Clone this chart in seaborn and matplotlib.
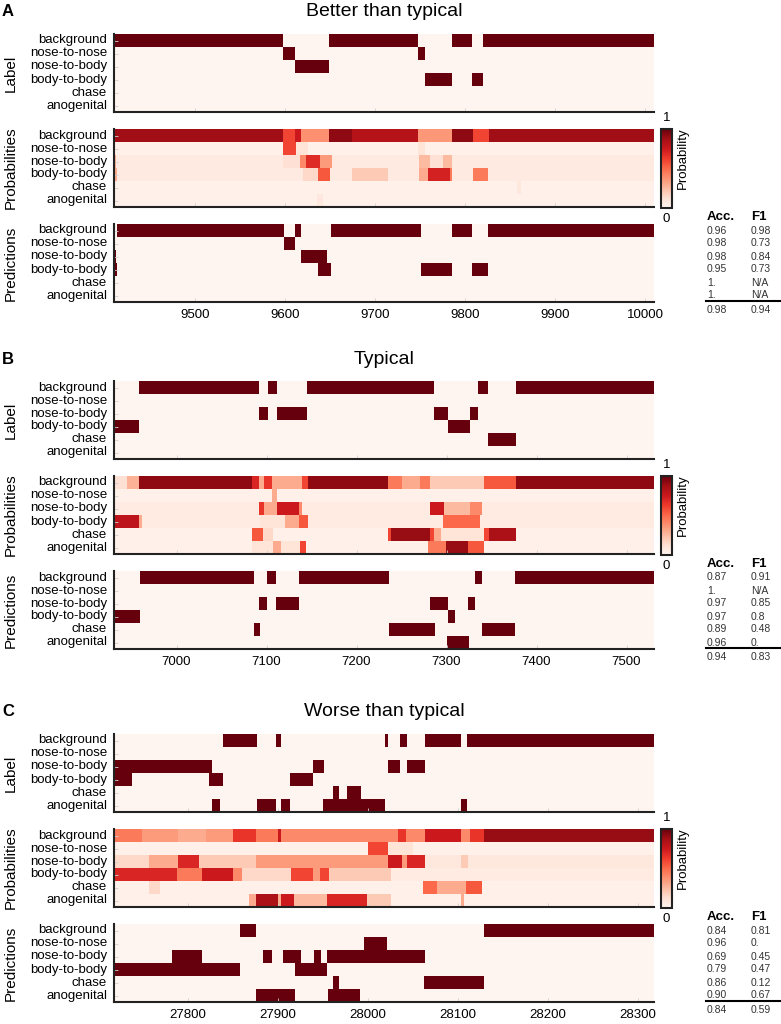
import numpy as np
import pandas as pd
import matplotlib.pyplot as plt
import matplotlib.transforms as mtransforms
import seaborn as sns

plt.rcParams["font.family"] = ["Liberation Sans", "DejaVu Sans"]

BEHAVIORS = ["background", "nose-to-nose", "nose-to-body", "body-to-body", "chase", "anogenital"]
GROUPS = ["Label", "Probabilities", "Predictions"]

# --- panel A: better than typical ---
A_TITLE = "Better than typical"
A_FRAMES = (9410, 10010)
A_TICKS = [9500, 9600, 9700, 9800, 9900, 10000]
A_LABEL = [
    ("background", 9410, 9598), ("background", 9649, 9748), ("background", 9785, 9808), ("background", 9820, 10010),
    ("nose-to-nose", 9598, 9611), ("nose-to-nose", 9748, 9756),
    ("nose-to-body", 9611, 9649),
    ("body-to-body", 9756, 9785), ("body-to-body", 9808, 9820),
]
A_PROB_BASE = [0.88, 0.03, 0.07, 0.07, 0.03, 0.03]
A_PROB = [
    ("background", 9598, 9611, 0.6), ("background", 9611, 9618, 0.75), ("background", 9618, 9649, 0.38),
    ("background", 9649, 9674, 0.92), ("background", 9674, 9748, 0.82), ("background", 9748, 9785, 0.36),
    ("background", 9785, 9809, 0.92), ("background", 9809, 9827, 0.6),
    ("nose-to-nose", 9598, 9612, 0.6), ("nose-to-nose", 9612, 9625, 0.1), ("nose-to-nose", 9748, 9756, 0.1),
    ("nose-to-body", 9410, 9412, 0.3), ("nose-to-body", 9598, 9617, 0.12), ("nose-to-body", 9617, 9623, 0.4),
    ("nose-to-body", 9623, 9639, 0.68), ("nose-to-body", 9639, 9652, 0.35), ("nose-to-body", 9749, 9761, 0.25),
    ("nose-to-body", 9761, 9775, 0.12), ("nose-to-body", 9775, 9785, 0.25),
    ("body-to-body", 9410, 9413, 0.3), ("body-to-body", 9620, 9637, 0.15), ("body-to-body", 9637, 9650, 0.55),
    ("body-to-body", 9674, 9714, 0.2), ("body-to-body", 9749, 9759, 0.3), ("body-to-body", 9759, 9783, 0.72),
    ("body-to-body", 9783, 9786, 0.45), ("body-to-body", 9809, 9825, 0.45),
    ("chase", 9858, 9862, 0.08), ("anogenital", 9636, 9642, 0.08),
]
A_PRED = [
    ("background", 9413, 9599), ("background", 9611, 9618), ("background", 9651, 9751), ("background", 9786, 9808), ("background", 9825, 10010),
    ("nose-to-nose", 9599, 9611),
    ("nose-to-body", 9410, 9412), ("nose-to-body", 9618, 9647),
    ("body-to-body", 9410, 9413), ("body-to-body", 9637, 9651), ("body-to-body", 9751, 9786), ("body-to-body", 9808, 9825),
]
A_ACC = ["0.96", "0.98", "0.98", "0.95", "1.", "1."]
A_F1 = ["0.98", "0.73", "0.84", "0.73", "N/A", "N/A"]
A_TOTAL = ["0.98", "0.94"]

# --- panel B: typical ---
B_TITLE = "Typical"
B_FRAMES = (6931, 7531)
B_TICKS = [7000, 7100, 7200, 7300, 7400, 7500]
B_LABEL = [
    ("background", 6959, 7092), ("background", 7102, 7112), ("background", 7145, 7286), ("background", 7335, 7346), ("background", 7378, 7531),
    ("nose-to-body", 7092, 7102), ("nose-to-body", 7112, 7145), ("nose-to-body", 7286, 7302), ("nose-to-body", 7327, 7335),
    ("body-to-body", 6931, 6959), ("body-to-body", 7302, 7327),
    ("chase", 7346, 7378),
]
B_PROB_BASE = [0.92, 0.03, 0.06, 0.06, 0.03, 0.03]
B_PROB = [
    ("background", 6931, 6945, 0.12), ("background", 6945, 6959, 0.28), ("background", 7084, 7092, 0.7),
    ("background", 7092, 7098, 0.3), ("background", 7098, 7106, 0.65), ("background", 7106, 7140, 0.3),
    ("background", 7140, 7146, 0.6), ("background", 7235, 7251, 0.45), ("background", 7251, 7271, 0.3),
    ("background", 7271, 7282, 0.45), ("background", 7282, 7342, 0.2), ("background", 7342, 7378, 0.55),
    ("nose-to-nose", 7106, 7112, 0.3),
    ("nose-to-body", 7092, 7098, 0.65), ("nose-to-body", 7098, 7112, 0.3), ("nose-to-body", 7112, 7136, 0.75),
    ("nose-to-body", 7136, 7140, 0.4), ("nose-to-body", 7282, 7298, 0.75), ("nose-to-body", 7298, 7326, 0.25),
    ("nose-to-body", 7326, 7340, 0.4),
    ("body-to-body", 6931, 6959, 0.8), ("body-to-body", 6959, 6962, 0.3), ("body-to-body", 7093, 7121, 0.1),
    ("body-to-body", 7121, 7136, 0.3), ("body-to-body", 7136, 7146, 0.55), ("body-to-body", 7296, 7338, 0.5),
    ("chase", 7084, 7096, 0.55), ("chase", 7096, 7108, 0.15), ("chase", 7235, 7239, 0.6), ("chase", 7239, 7282, 0.9),
    ("chase", 7282, 7286, 0.6), ("chase", 7286, 7294, 0.3), ("chase", 7294, 7342, 0.1), ("chase", 7342, 7348, 0.6),
    ("chase", 7348, 7378, 0.85),
    ("anogenital", 7084, 7108, 0.1), ("anogenital", 7108, 7116, 0.3), ("anogenital", 7116, 7138, 0.1),
    ("anogenital", 7138, 7144, 0.6), ("anogenital", 7280, 7300, 0.45), ("anogenital", 7300, 7324, 0.9),
    ("anogenital", 7324, 7342, 0.55),
]
B_PRED = [
    ("background", 6960, 7087), ("background", 7101, 7111), ("background", 7137, 7236), ("background", 7332, 7340), ("background", 7376, 7531),
    ("nose-to-body", 7092, 7101), ("nose-to-body", 7111, 7137), ("nose-to-body", 7282, 7302), ("nose-to-body", 7324, 7332),
    ("body-to-body", 6931, 6960), ("body-to-body", 7302, 7310),
    ("chase", 7087, 7093), ("chase", 7236, 7288), ("chase", 7340, 7376),
    ("anogenital", 7301, 7325),
]
B_ACC = ["0.87", "1.", "0.97", "0.97", "0.89", "0.96"]
B_F1 = ["0.91", "N/A", "0.85", "0.8", "0.48", "0."]
B_TOTAL = ["0.94", "0.83"]

# --- panel C: worse than typical ---
C_TITLE = "Worse than typical"
C_FRAMES = (27718, 28318)
C_TICKS = [27800, 27900, 28000, 28100, 28200, 28300]
C_LABEL = [
    ("background", 27839, 27877), ("background", 27898, 27904), ("background", 28019, 28022), ("background", 28036, 28043),
    ("background", 28063, 28103), ("background", 28110, 28318),
    ("nose-to-body", 27718, 27827), ("nose-to-body", 27939, 27951), ("nose-to-body", 28022, 28036), ("nose-to-body", 28043, 28063),
    ("body-to-body", 27718, 27738), ("body-to-body", 27824, 27839), ("body-to-body", 27913, 27939),
    ("chase", 27961, 27968), ("chase", 27977, 27992),
    ("anogenital", 27827, 27836), ("anogenital", 27877, 27898), ("anogenital", 27904, 27913), ("anogenital", 27950, 28019),
    ("anogenital", 28103, 28110),
]
C_PROB_BASE = [0.9, 0.03, 0.08, 0.06, 0.03, 0.03]
C_PROB = [
    ("background", 27718, 27749, 0.45), ("background", 27749, 27789, 0.35), ("background", 27789, 27820, 0.3),
    ("background", 27820, 27850, 0.35), ("background", 27850, 27876, 0.65), ("background", 27876, 27900, 0.45),
    ("background", 27900, 27904, 0.75), ("background", 27904, 28034, 0.4), ("background", 28034, 28042, 0.65),
    ("background", 28042, 28064, 0.4), ("background", 28064, 28103, 0.75), ("background", 28103, 28114, 0.4),
    ("background", 28114, 28129, 0.65),
    ("nose-to-nose", 28000, 28022, 0.6), ("nose-to-nose", 28022, 28050, 0.1),
    ("nose-to-body", 27718, 27757, 0.15), ("nose-to-body", 27757, 27789, 0.3), ("nose-to-body", 27789, 27812, 0.7),
    ("nose-to-body", 27812, 27876, 0.2), ("nose-to-body", 27876, 28022, 0.35), ("nose-to-body", 28022, 28038, 0.75),
    ("nose-to-body", 28038, 28044, 0.35), ("nose-to-body", 28044, 28064, 0.7), ("nose-to-body", 28103, 28111, 0.2),
    ("body-to-body", 27718, 27788, 0.7), ("body-to-body", 27788, 27816, 0.45), ("body-to-body", 27816, 27850, 0.75),
    ("body-to-body", 27850, 27860, 0.4), ("body-to-body", 27860, 27915, 0.15), ("body-to-body", 27915, 27939, 0.6),
    ("body-to-body", 27939, 27947, 0.35), ("body-to-body", 27947, 27957, 0.6), ("body-to-body", 27957, 28026, 0.2),
    ("chase", 27757, 27769, 0.15), ("chase", 28061, 28077, 0.5), ("chase", 28077, 28109, 0.3), ("chase", 28109, 28127, 0.55),
    ("anogenital", 27868, 27876, 0.3), ("anogenital", 27876, 27900, 0.85), ("anogenital", 27900, 27904, 0.3),
    ("anogenital", 27904, 27918, 0.75), ("anogenital", 27918, 27955, 0.25), ("anogenital", 27955, 27999, 0.7),
    ("anogenital", 27999, 28026, 0.2), ("anogenital", 28103, 28107, 0.3),
]
C_PRED = [
    ("background", 27858, 27876), ("background", 28129, 28318),
    ("nose-to-nose", 27996, 28021),
    ("nose-to-body", 27782, 27816), ("nose-to-body", 27883, 27893), ("nose-to-body", 27906, 27926),
    ("nose-to-body", 27940, 27948), ("nose-to-body", 27955, 28064),
    ("body-to-body", 27718, 27858), ("body-to-body", 27919, 27955),
    ("chase", 27961, 27968), ("chase", 28062, 28129),
    ("anogenital", 27876, 27919), ("anogenital", 27956, 27991),
]
C_ACC = ["0.84", "0.96", "0.69", "0.79", "0.86", "0.90"]
C_F1 = ["0.81", "0.", "0.45", "0.47", "0.12", "0.67"]
C_TOTAL = ["0.84", "0.59"]


def binary_frame(segs, frames):
    cols = np.arange(frames[0], frames[1])
    df = pd.DataFrame(0.0, index=BEHAVIORS, columns=cols)
    for beh, s, e in segs:
        df.loc[beh, s:e - 1] = 1.0
    return df


def prob_frame(base, segs, frames):
    cols = np.arange(frames[0], frames[1])
    df = pd.DataFrame(np.repeat(np.array(base)[:, None], len(cols), axis=1), index=BEHAVIORS, columns=cols)
    for beh, s, e, p in segs:
        df.loc[beh, s:e - 1] = p
    return df


panels = [
    ("A", A_TITLE, A_FRAMES, A_TICKS, A_LABEL, A_PROB_BASE, A_PROB, A_PRED, A_ACC, A_F1, A_TOTAL, 0),
    ("B", B_TITLE, B_FRAMES, B_TICKS, B_LABEL, B_PROB_BASE, B_PROB, B_PRED, B_ACC, B_F1, B_TOTAL, 347),
    ("C", C_TITLE, C_FRAMES, C_TICKS, C_LABEL, C_PROB_BASE, C_PROB, C_PRED, C_ACC, C_F1, C_TOTAL, 700),
]

W, H = 781, 1024
fig = plt.figure(figsize=(W / 100, H / 100), dpi=100)


def px_axes(left, top, width, height):
    return fig.add_axes([left / W, 1 - (top + height) / H, width / W, height / H])


for letter, title, frames, ticks, lab, pbase, prob, pred, acc, f1, total, off in panels:
    data = [binary_frame(lab, frames), prob_frame(pbase, prob, frames), binary_frame(pred, frames)]
    tops = [34, 129, 224]
    cax = px_axes(661, off + 129, 11, 79)
    for k, df in enumerate(data):
        ax = px_axes(114, off + tops[k], 540, 78)
        sns.heatmap(df, ax=ax, cmap="Reds", vmin=0, vmax=1,
                    cbar=(k == 1), cbar_ax=cax if k == 1 else None,
                    xticklabels=False, yticklabels=BEHAVIORS)
        ax.set_yticks(np.arange(len(BEHAVIORS)) + 0.5)
        ax.set_yticklabels(BEHAVIORS, rotation=0, fontsize=9.5)
        ax.set_xticks([t - frames[0] + 0.5 for t in ticks])
        ax.set_xticklabels([str(t) for t in ticks] if k == 2 else [], fontsize=9.5)
        ax.tick_params(direction="in", length=3, width=0.6, color="#d0d0d0", pad=5)
        ax.set_xlabel("")
        ax.set_ylabel("")
        for side in ["left", "bottom"]:
            ax.spines[side].set_visible(True)
            ax.spines[side].set_linewidth(1.5)
            ax.spines[side].set_color("#222222")
        fig.text(11 / W, 1 - (off + tops[k] + 39) / H, GROUPS[k], rotation=90,
                 ha="center", va="center", fontsize=11)

        if k == 1:
            cbar = ax.collections[0].colorbar
            cbar.set_ticks([])
            cbar.outline.set_linewidth(1.5)
            cbar.outline.set_edgecolor("#222222")
            cax.text(0.5, 1.06, "1", transform=cax.transAxes, ha="center", va="bottom", fontsize=9.5)
            cax.text(0.5, -0.06, "0", transform=cax.transAxes, ha="center", va="top", fontsize=9.5)
            cax.text(1.45, 0.63, "Probability", transform=cax.transAxes, rotation=90,
                     ha="left", va="center", fontsize=9.5)

        if k == 2:
            tr = mtransforms.blended_transform_factory(fig.transFigure, ax.transData)
            x1, x2 = 707 / W, 751 / W
            fig.text(x1, -0.56, "Acc.", transform=tr, fontsize=9.5, fontweight="bold", va="center")
            fig.text(x2, -0.56, "F1", transform=tr, fontsize=9.5, fontweight="bold", va="center")
            for i in range(len(BEHAVIORS)):
                fig.text(x1, i + 0.5, acc[i], transform=tr, fontsize=7.5, color="#333333", va="center")
                fig.text(x2, i + 0.5, f1[i], transform=tr, fontsize=7.5, color="#333333", va="center")
            fig.add_artist(plt.Line2D([706 / W, 1.0], [5.92, 5.92], transform=tr, color="black", lw=1.5))
            fig.text(x1, 6.62, total[0], transform=tr, fontsize=7.5, color="#333333", va="center")
            fig.text(x2, 6.62, total[1], transform=tr, fontsize=7.5, color="#333333", va="center")

    fig.text(384 / W, 1 - (off + 12) / H, title, ha="center", va="center", fontsize=14)
    fig.text(2 / W, 1 - (off + 12) / H, letter, ha="left", va="center", fontsize=12, fontweight="bold")

fig.savefig("out.png", dpi=100)
plt.close(fig)
